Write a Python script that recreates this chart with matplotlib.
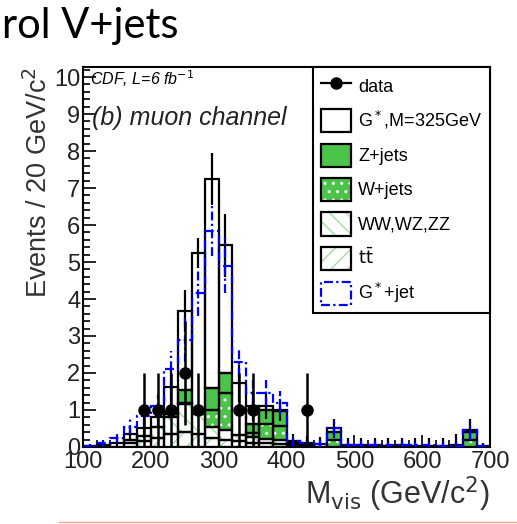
import numpy as np
import matplotlib
matplotlib.use('Agg')
import matplotlib.pyplot as plt
from matplotlib.patches import Rectangle
from matplotlib.lines import Line2D
from matplotlib.ticker import MultipleLocator

plt.rcParams['font.family'] = ['Liberation Sans', 'DejaVu Sans']
plt.rcParams['hatch.linewidth'] = 1.0

# 20 GeV bins from 100 to 700
edges = np.arange(100, 701, 20)

# stacked backgrounds (events per bin)
ttbar = [0, 0, 0, .10, .15, .25, .35, .40, .35, .25, .20, .15, .12, .10, .08,
         .05, .03, 0, 0, 0, 0, 0, 0, 0, 0, 0, 0, 0, 0, 0]
diboson = [0, 0, 0, .10, .15, .30, .45, .75, .55, .30, .25, .18, .15, .12, .10,
           .05, .02, 0, 0, 0, 0, 0, 0, 0, 0, 0, 0, 0, 0, 0]
wjets = [0, 0, 0, 0, 0, 0, .10, .05, 0, .45, 1.0, 0, .10, .40, .40,
         0, 0, 0, .20, 0, 0, 0, 0, 0, 0, 0, 0, 0, .20, 0]
zjets = [0, 0, 0, 0, 0, 0, .05, .35, 0, .60, .55, 0, .25, .38, .40,
         0, 0, 0, .20, 0, 0, 0, 0, 0, 0, 0, 0, 0, .20, 0]

# G*, M=325 GeV signal on top of the stack, with MC stat errors
gstar = [.02, .05, .10, .15, .20, .27, .68, 2.13, 4.35, 5.65, 3.45, 1.39, .48, .10, .02,
         .05, .05, .08, .10, .04, .04, .04, .03, .04, .03, .03, .03, .04, .05, .02]
gstar_err = [.05, .08, .12, .20, .25, .30, .55, .55, .40, .70, .85, .50, .40, .35, .30,
             .20, .20, .20, .25, .20, .20, .20, .20, .20, .20, .20, .20, .30, .30, .10]

# G*+jet overlay
gjet = [.03, .10, .25, .55, .85, 1.10, 2.10, 2.90, 4.15, 5.85, 4.90, 2.30, 1.45, 1.45, 1.20,
        .15, .10, .08, .50, .06, .05, .05, .04, .05, .04, .04, .03, .03, .45, .02]
gjet_err = [.05, .10, .15, .20, .25, .30, .50, .60, .60, .70, .75, .40, .35, .35, .30,
            .15, .10, .10, .20, .10, .10, .10, .10, .10, .10, .10, .10, .10, .25, .05]

# observed data
data_mass = [190, 210, 230, 250, 270, 330, 350, 430]
data_events = [1, 1, 1, 2, 1, 1, 1, 1]
data_err = [1, 1, 1, 1.41, 1, 1, 1, 1]

green = '#4cc44c'
hatch_green = '#9fdf9f'

fig = plt.figure(figsize=(5.17, 5.24), dpi=100)
ax = fig.add_axes([0.1605, 0.147, 0.7875, 0.725])

lefts = edges[:-1]
width = 20
bottom = np.zeros(len(lefts))


def add_layer(vals, face, hatch=None, hcolor=None):
    global bottom
    vals = np.asarray(vals, dtype=float)
    keep = vals > 0
    if hatch:
        ax.bar(lefts[keep], vals[keep], width, bottom=bottom[keep], align='edge',
               color=face, edgecolor=hcolor, hatch=hatch, lw=0, zorder=2)
    else:
        ax.bar(lefts[keep], vals[keep], width, bottom=bottom[keep], align='edge',
               color=face, lw=0, zorder=2)
    ax.bar(lefts[keep], vals[keep], width, bottom=bottom[keep], align='edge',
           fill=False, edgecolor='black', lw=1.6, zorder=3)
    bottom = bottom + vals


add_layer(ttbar, 'white', '//', hatch_green)
add_layer(diboson, 'white', '\\\\', hatch_green)
add_layer(wjets, green, '..', 'white')
add_layer(zjets, green)
add_layer(gstar, 'white')

centers = lefts + width / 2
ax.vlines(centers, bottom - np.array(gstar_err), bottom + np.array(gstar_err),
          color='black', lw=1.6, zorder=4)

# G*+jet dash-dotted histogram and errors
ax.stairs(gjet, edges, color='#0000ff', lw=1.6, ls=(0, (4, 1.5, 1, 1.5)), zorder=5)
ax.vlines(centers, np.array(gjet) - np.array(gjet_err), np.array(gjet) + np.array(gjet_err),
          color='#0000ff', lw=1.6, linestyles=[(0, (4, 1.5, 1, 1.5))], zorder=5)

ax.errorbar(data_mass, data_events, yerr=data_err, fmt='o', color='black',
            ms=8, elinewidth=1.8, capsize=0, zorder=6)

ax.set_xlim(100, 700)
ax.set_ylim(0, 10.27)
ax.xaxis.set_major_locator(MultipleLocator(100))
ax.xaxis.set_minor_locator(MultipleLocator(20))
ax.yaxis.set_major_locator(MultipleLocator(1))
ax.yaxis.set_minor_locator(MultipleLocator(0.2))
ax.tick_params(which='both', direction='in', top=False, right=False,
               labelsize=17, labelcolor='#222222', width=1.2)
ax.tick_params(which='major', length=9)
ax.tick_params(which='minor', length=5)
ax.tick_params(axis='y', pad=2)
ax.tick_params(axis='x', pad=3)
for s in ax.spines.values():
    s.set_linewidth(1.5)

ax.set_ylabel('Events / 20 GeV/c$^2$', fontsize=19.5, color='#333333',
              loc='top', labelpad=1)
ax.set_xlabel('M$_{\\rm vis}$ (GeV/c$^2$)', fontsize=22, color='#333333',
              loc='right', labelpad=1)

ax.text(0.017, 0.97, 'CDF, L=6 fb$^{-1}$', transform=ax.transAxes, fontsize=11.5,
        style='italic', va='center', ha='left')
ax.text(0.022, 0.865, '(b) muon channel', transform=ax.transAxes, fontsize=18,
        style='italic', va='center', ha='left', color='#222222')

# legend proxies
h_data = Line2D([], [], color='black', marker='o', ms=8, lw=1.6)
h_gstar = Rectangle((0, 0), 1, 1, facecolor='white', edgecolor='black', lw=1.6)
h_z = Rectangle((0, 0), 1, 1, facecolor=green, edgecolor='black', lw=1.6)
h_w = (Rectangle((0, 0), 1, 1, facecolor=green, edgecolor='white', hatch='..', lw=0),
       Rectangle((0, 0), 1, 1, fill=False, edgecolor='black', lw=1.6))
h_vv = (Rectangle((0, 0), 1, 1, facecolor='white', edgecolor=hatch_green, hatch='\\\\', lw=0),
        Rectangle((0, 0), 1, 1, fill=False, edgecolor='black', lw=1.6))
h_tt = (Rectangle((0, 0), 1, 1, facecolor='white', edgecolor=hatch_green, hatch='//', lw=0),
        Rectangle((0, 0), 1, 1, fill=False, edgecolor='black', lw=1.6))
h_gjet = Rectangle((0, 0), 1, 1, facecolor='none', edgecolor='#0000ff', lw=1.6,
                   ls=(0, (4, 1.5, 1, 1.5)))

leg = ax.legend([h_data, h_gstar, h_z, h_w, h_vv, h_tt, h_gjet],
                ['data', 'G$^*$,M=325GeV', 'Z+jets', 'W+jets', 'WW,WZ,ZZ',
                 r'$\rm t\bar{t}$', 'G$^*$+jet'],
                loc='upper right', bbox_to_anchor=(1, 1), borderaxespad=0,
                fontsize=13, handlelength=1.67, handleheight=1.6,
                labelspacing=0.62, borderpad=0.42, handletextpad=0.39,
                fancybox=False, framealpha=1, edgecolor='black')
leg.get_frame().set_linewidth(1.5)
leg.set_zorder(10)

fig.text(0.003, 1 - 38 / 524, 'rol V+jets', family='Lato', fontsize=30,
         va='baseline', ha='left')
fig.add_artist(Line2D([0.115, 1.0], [0.003, 0.003], color='#e9a898', lw=1))

fig.savefig('out.png', dpi=100)
